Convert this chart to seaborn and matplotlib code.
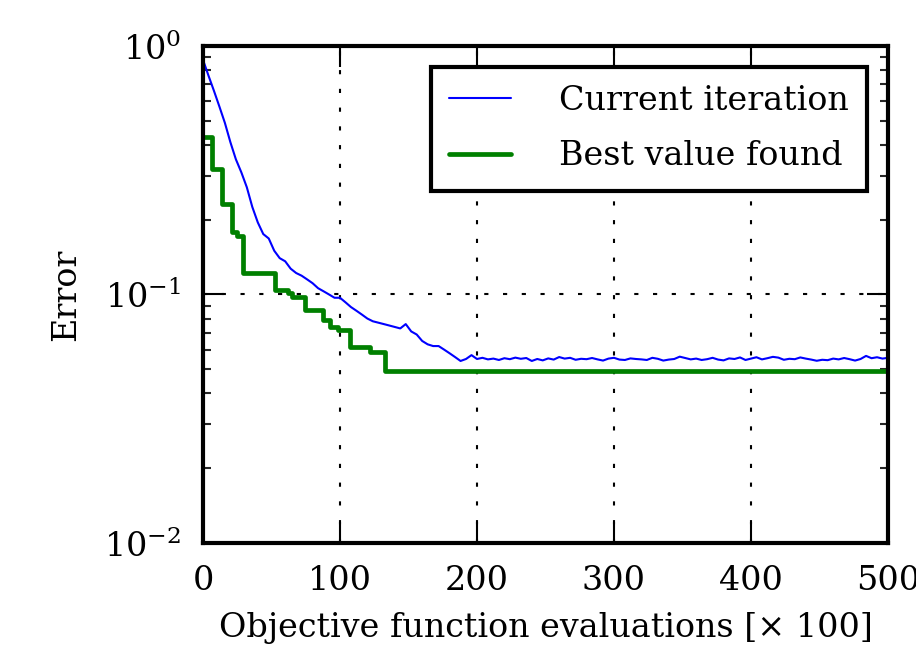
import numpy as np
import pandas as pd
import matplotlib
matplotlib.use("Agg")
import matplotlib.pyplot as plt
import seaborn as sns

# ---- data ----
iter_x = list(range(0, 501, 4))
current_early = [0.88, 0.76, 0.66, 0.57, 0.49, 0.41, 0.35, 0.31, 0.27, 0.225,
                 0.195, 0.175, 0.168, 0.150, 0.140, 0.136, 0.127, 0.122, 0.119, 0.115,
                 0.111, 0.106, 0.103, 0.100, 0.097, 0.097, 0.093, 0.089, 0.086, 0.083,
                 0.080, 0.078, 0.077, 0.076, 0.075, 0.074, 0.073, 0.076, 0.071, 0.069,
                 0.065, 0.063, 0.062, 0.062, 0.060, 0.058, 0.056, 0.054, 0.055, 0.057,
                 0.055]
current_late = [0.0556, 0.0548, 0.0552, 0.0545, 0.0554, 0.0549, 0.0557, 0.0551, 0.0555, 0.0540,
                0.0550, 0.0543, 0.0553, 0.0547, 0.0560, 0.0552, 0.0556, 0.0546, 0.0551, 0.0549,
                0.0555, 0.0548, 0.0542, 0.0552, 0.0556, 0.0547, 0.0545, 0.0553, 0.0550, 0.0548,
                0.0545, 0.0556, 0.0551, 0.0542, 0.0547, 0.0550, 0.0562, 0.0555, 0.0548, 0.0552,
                0.0545, 0.0549, 0.0556, 0.0547, 0.0543, 0.0553, 0.0550, 0.0558, 0.0545, 0.0552,
                0.0559, 0.0548, 0.0554, 0.0561, 0.0557, 0.0546, 0.0551, 0.0549, 0.0558, 0.0552,
                0.0547, 0.0541, 0.0546, 0.0544, 0.0552, 0.0548, 0.0555, 0.0549, 0.0542, 0.0550,
                0.0566, 0.0554, 0.0559, 0.0552, 0.0556]
current_vals = current_early + current_late

best_x = [0, 6.3, 13.6, 20.9, 24.6, 29.4, 52.6, 62.3, 64.7, 74.5, 87.8, 92.7,
          98.8, 107.3, 121.9, 132.8, 500]
best_vals = [0.43, 0.32, 0.232, 0.178, 0.172, 0.122, 0.1045, 0.101, 0.0975, 0.0867,
             0.0793, 0.0739, 0.0718, 0.0614, 0.0586, 0.0493, 0.0493]

x_ticks = [0, 100, 200, 300, 400, 500]
labels = ["Current iteration", "Best value found"]
xlabel = "Objective function evaluations [× 100]"
ylabel = "Error"

# ---- style ----
sns.set_style("ticks")
plt.rcParams["font.family"] = ["DejaVu Serif"]
plt.rcParams["mathtext.fontset"] = "dejavuserif"
plt.rcParams["text.color"] = "black"
plt.rcParams["axes.labelcolor"] = "black"

FS_TICK = 24
FS_LAB = 24
fig = plt.figure(figsize=(9.16, 6.53), dpi=100)
ax = fig.add_axes([0.2216, 0.1685, 0.7478, 0.7611])

df_cur = pd.DataFrame({"x": iter_x, "y": current_vals})
df_best = pd.DataFrame({"x": best_x, "y": best_vals})

sns.lineplot(data=df_cur, x="x", y="y", ax=ax, color="#0000ff", lw=1.5,
             estimator=None, label=labels[0])
sns.lineplot(data=df_best, x="x", y="y", ax=ax, color="#008000", lw=3.4,
             estimator=None, drawstyle="steps-post", label=labels[1])

ax.set_yscale("log")
ax.set_xlim(0, 500)
ax.set_ylim(0.01, 1.0)
ax.set_xticks(x_ticks)

ax.grid(True, which="major", color="black", lw=1.5, linestyle=(0, (2, 7)))
for s in ax.spines.values():
    s.set_linewidth(3)
    s.set_color("black")
    s.set_visible(True)

ax.tick_params(which="major", direction="in", length=15, width=1.5,
               top=True, right=True, labelsize=FS_TICK, pad=16, colors="black")
ax.tick_params(which="minor", direction="in", length=6, width=1.5,
               top=True, right=True)
ax.tick_params(axis="x", which="minor", top=False, bottom=False)

ax.set_xlabel(xlabel, fontsize=FS_LAB, labelpad=11, color="black")
ax.set_ylabel(ylabel, fontsize=FS_LAB, labelpad=16, color="black")

leg = ax.legend(loc="upper right", fontsize=FS_LAB, frameon=True, fancybox=False,
                handlelength=1.85, handletextpad=1.45, borderaxespad=0.62,
                borderpad=0.55, labelspacing=0.7)
leg.get_frame().set_edgecolor("black")
leg.get_frame().set_linewidth(3)
leg.get_frame().set_alpha(1)

fig.savefig("out.png", dpi=100)
